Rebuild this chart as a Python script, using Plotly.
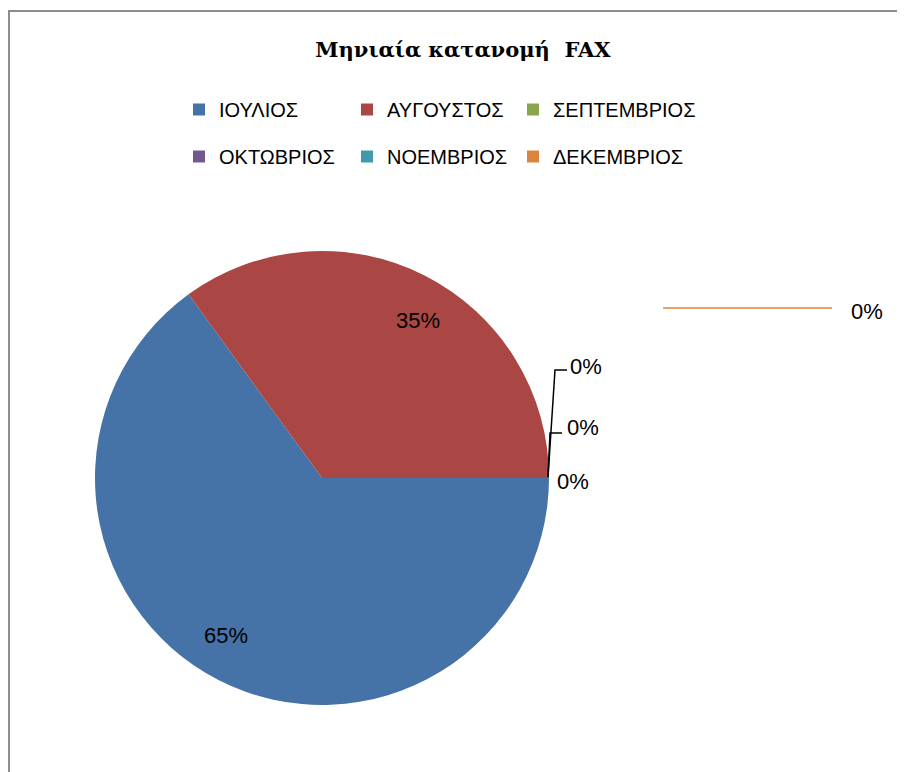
import math
import plotly.graph_objects as go

# monthly FAX distribution
months = ["ΙΟΥΛΙΟΣ", "ΑΥΓΟΥΣΤΟΣ", "ΣΕΠΤΕΜΒΡΙΟΣ", "ΟΚΤΩΒΡΙΟΣ", "ΝΟΕΜΒΡΙΟΣ", "ΔΕΚΕΜΒΡΙΟΣ"]
fax_counts = [65, 35, 0, 0, 0, 0]
slice_colors = ["#4572A7", "#AA4643", "#89A54E", "#71588F", "#4198AF", "#DB843D"]

W, H = 905, 772
OFF = 8  # the html page body has an 8px margin

def px_x(x):
    return (x - OFF) / W

def px_y(y):
    return 1 - (y - OFF) / H

# pie geometry (pixels on the final page)
cx, cy, r = 322, 478, 227
label_font = dict(family="Liberation Sans, Arial, sans-serif", size=22, color="black")
legend_font = dict(family="Liberation Sans, Arial, sans-serif", size=20, color="black")

fig = go.Figure()
fig.add_trace(go.Pie(
    labels=months,
    values=fax_counts,
    marker=dict(colors=slice_colors, line=dict(width=0)),
    sort=False,
    direction="clockwise",
    rotation=90,
    textinfo="none",
    showlegend=False,
    domain=dict(x=[px_x(cx - r), px_x(cx + r)], y=[px_y(cy + r), px_y(cy - r)]),
    hoverinfo="label+value+percent",
))

# percentage labels of the non-empty slices, out at 0.81 r near each slice bisector
total = sum(fax_counts)
cum = 0
for v in fax_counts:
    if v > 0:
        mid = -2 * math.pi * (cum + v / 2) / total - math.radians(4.3)
        lx = cx + 0.81 * r * math.cos(mid)
        ly = cy - 0.81 * r * math.sin(mid)
        fig.add_annotation(x=px_x(lx), y=px_y(ly), xref="paper", yref="paper",
                           xanchor="center", yanchor="middle",
                           text=f"{v / total:.0%}", showarrow=False, font=label_font)
    cum += v

# labels for the empty slices, scattered the way the spreadsheet placed them
zero_labels = [(cx + 246, cy - 112), (cx + 243, cy - 51), (cx + 233, cy + 4), (cx + 527, cy - 167)]
for lx, ly in zero_labels:
    fig.add_annotation(x=px_x(lx), y=px_y(ly), xref="paper", yref="paper",
                       xanchor="left", yanchor="middle",
                       text="0%", showarrow=False, font=label_font)

leaders = [
    [(cx + 226, cy - 1), (cx + 233, cy - 108), (cx + 245, cy - 108)],
    [(cx + 226, cy - 1), (cx + 228, cy - 45), (cx + 240, cy - 45)],
]
for pts in leaders:
    path = "M " + " L ".join(f"{px_x(a)},{px_y(b)}" for a, b in pts)
    fig.add_shape(type="path", path=path, xref="paper", yref="paper",
                  line=dict(color="black", width=1.5))
fig.add_shape(type="line", xref="paper", yref="paper",
              x0=px_x(cx + 341), x1=px_x(cx + 510), y0=px_y(cy - 170), y1=px_y(cy - 170),
              line=dict(color="#DB843D", width=1.4))

# chart border
fig.add_shape(type="rect", xref="paper", yref="paper",
              x0=px_x(9), x1=px_x(W + 20), y0=px_y(H + 20), y1=px_y(11),
              line=dict(color="#8c8c8c", width=2))

# legend: three columns of two entries each
legend_cols = [179, 347, 513]
for i, (m, c) in enumerate(zip(months, slice_colors)):
    col = i % 3
    fig.add_trace(go.Scatter(
        x=[None], y=[None], mode="markers", name=m,
        marker=dict(symbol="square", size=12, color=c),
        legend="legend" if col == 0 else f"legend{col + 1}",
        legendgroup=m, showlegend=True, hoverinfo="skip",
    ))

legend_common = dict(orientation="v", yanchor="top", y=px_y(90), xanchor="left",
                     font=legend_font, tracegroupgap=18, itemwidth=30,
                     bgcolor="rgba(0,0,0,0)", traceorder="grouped")

fig.update_layout(
    width=W, height=H,
    margin=dict(l=0, r=0, t=0, b=0),
    paper_bgcolor="white",
    plot_bgcolor="white",
    xaxis=dict(visible=False),
    yaxis=dict(visible=False),
    title=dict(text="Μηνιαία κατανομή\u00a0\u00a0FAX", x=px_x(463), xanchor="center",
               y=px_y(50), yanchor="middle",
               font=dict(family="DejaVu Serif, serif", size=21, color="black", weight="bold")),
    showlegend=True,
    legend=dict(x=px_x(legend_cols[0]), **legend_common),
    legend2=dict(x=px_x(legend_cols[1]), **legend_common),
    legend3=dict(x=px_x(legend_cols[2]), **legend_common),
)

fig.write_html("out.html")
